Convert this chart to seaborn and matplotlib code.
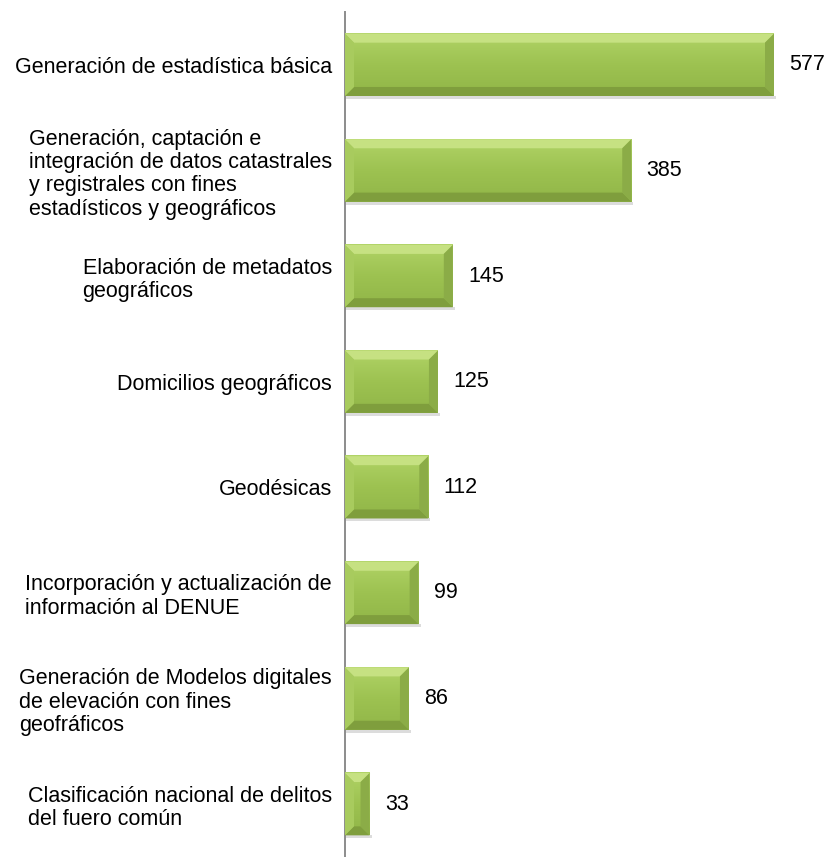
import numpy as np
import matplotlib
matplotlib.use("Agg")
import matplotlib.pyplot as plt
import seaborn as sns
from matplotlib.patches import Polygon
from matplotlib.colors import LinearSegmentedColormap

categories = [
    "Generación de estadística básica",
    "Generación, captación e\nintegración de datos catastrales\ny registrales con fines\nestadísticos y geográficos",
    "Elaboración de metadatos\ngeográficos",
    "Domicilios geográficos",
    "Geodésicas",
    "Incorporación y actualización de\ninformación al DENUE",
    "Generación de Modelos digitales\nde elevación con fines\ngeofráficos",
    "Clasificación nacional de delitos\ndel fuero común",
]
values = [577, 385, 145, 125, 112, 99, 86, 33]

sns.set_style("white")
plt.rcParams["font.family"] = ["Liberation Sans", "DejaVu Sans"]

fig = plt.figure(figsize=(8.26, 8.57), dpi=100)
ax = fig.add_axes([345 / 826, 0.0, 600 * 0.7435 / 826, 1 - 12 / 857])

sns.barplot(x=values, y=categories, orient="h", color="#9dc251",
            width=0.59, ax=ax, saturation=1)
ax.set_xlim(0, 600)
n = len(categories)
ax.set_ylim(n - 0.5, -0.5)

# axis styling
for s in ["top", "right", "bottom"]:
    ax.spines[s].set_visible(False)
ax.spines["left"].set_color("#8c8c8c")
ax.spines["left"].set_linewidth(1.4)
ax.set_xticks([])
ax.set_xlabel("")
ax.set_ylabel("")
ax.tick_params(axis="y", which="major", length=0, pad=9.5, labelsize=15.5,
               labelcolor="black")
ax.set_yticks(np.arange(-0.5, n, 1.0), minor=True)
ax.tick_params(axis="y", which="minor", length=4.5, width=1.2, color="#8c8c8c")
for lab in ax.get_yticklabels():
    lab.set_multialignment("left")
    lab.set_linespacing(1.15)

# bevelled bars
fig.canvas.draw()
px_x = ax.transData.transform((1, 0))[0] - ax.transData.transform((0, 0))[0]
px_y = abs(ax.transData.transform((0, 1))[1] - ax.transData.transform((0, 0))[1])
grad = LinearSegmentedColormap.from_list("g", ["#b0d366", "#9dc251", "#91b648"])
for p in ax.patches:
    x0, y0 = p.get_x(), p.get_y()
    w, h = p.get_width(), p.get_height()
    x1, y1 = x0 + w, y0 + h  # y0 is top (inverted axis)
    b = min(9.0, w * px_x / 2)
    bx, by = b / px_x, b / px_y
    # soft shadow
    ax.add_patch(Polygon([(x0, y1), (x1 + 2 / px_x, y1), (x1 + 2 / px_x, y1 + 3 / px_y),
                          (x0, y1 + 3 / px_y)], closed=True, color="#dcdcdc",
                         zorder=1, lw=0))
    ax.imshow(np.linspace(0, 1, 50).reshape(-1, 1), cmap=grad, aspect="auto",
              extent=(x0, x1, y1, y0), zorder=3, interpolation="bilinear")
    ax.add_patch(Polygon([(x0, y0), (x1, y0), (x1 - bx, y0 + by), (x0 + bx, y0 + by)],
                         closed=True, color="#c6e182", lw=0, zorder=4))
    ax.add_patch(Polygon([(x0, y1), (x1, y1), (x1 - bx, y1 - by), (x0 + bx, y1 - by)],
                         closed=True, color="#7f9e3d", lw=0, zorder=4))
    ax.add_patch(Polygon([(x1, y0), (x1, y1), (x1 - bx, y1 - by), (x1 - bx, y0 + by)],
                         closed=True, color="#8bac47", lw=0, zorder=4))
    ax.add_patch(Polygon([(x0, y0), (x0, y1), (x0 + bx, y1 - by), (x0 + bx, y0 + by)],
                         closed=True, color="#a8cb5e", lw=0, zorder=4))
ax.set_xlim(0, 600)
ax.set_ylim(n - 0.5, -0.5)

ax.bar_label(ax.containers[0], labels=[str(v) for v in values], padding=11,
             fontsize=15.5, color="black")

fig.savefig("out.png", dpi=100)
